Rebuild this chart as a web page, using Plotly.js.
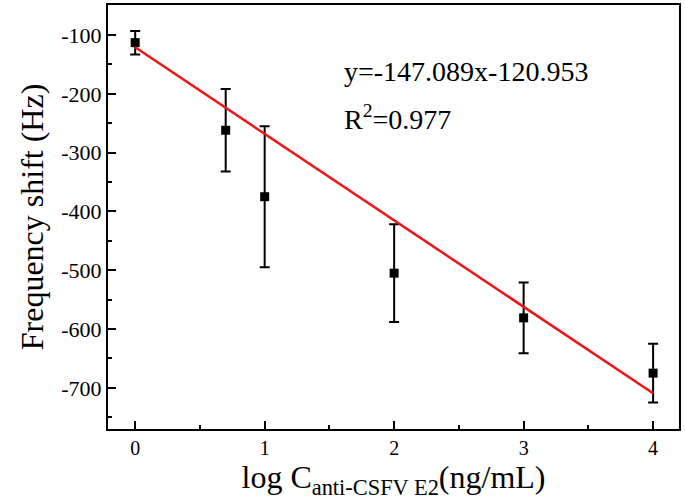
<!DOCTYPE html>
<html>
<head>
<meta charset="utf-8">
<script src="https://cdn.plot.ly/plotly-3.0.1.min.js"></script>
<style>
  html, body { margin: 0; padding: 0; background: #fff; }
  #chart { width: 685px; height: 502px; }
</style>
</head>
<body>
<div id="chart"></div>
<script>
// ─────────────────────────────
// DATOS
// ─────────────────────────────
const logConc = [0, 0.699, 1, 2, 3, 4];
const shift = [-113, -262, -375, -505, -581, -675];
const shiftErr = [20, 70, 120, 83, 60, 50];

// recta de ajuste y = -147.089x - 120.953 (extremos)
const fitX = [0, 4];
const fitY = [-120.953, -709.309];

const yTicks = [-700, -600, -500, -400, -300, -200, -100];
const xTicks = [0, 1, 2, 3, 4];

const serif = '"Liberation Serif", "Times New Roman", serif';

// ─────────────────────────────
// TRAZAS
// ─────────────────────────────
const puntos = {
  x: logConc,
  y: shift,
  type: 'scatter',
  mode: 'markers',
  marker: { symbol: 'square', size: 9, color: '#000' },
  error_y: {
    type: 'data',
    array: shiftErr,
    visible: true,
    color: '#000',
    thickness: 2,
    width: 5
  },
  showlegend: false
};

const ajuste = {
  x: fitX,
  y: fitY,
  type: 'scatter',
  mode: 'lines',
  line: { color: 'rgb(235,22,22)', width: 2.5 },
  showlegend: false
};

// ─────────────────────────────
// LAYOUT
// ─────────────────────────────
const ejeComun = {
  showline: true,
  mirror: true,
  linecolor: '#000',
  linewidth: 2,
  ticks: 'inside',
  ticklen: 8,
  tickwidth: 2,
  tickcolor: '#000',
  showgrid: false,
  zeroline: false
};

const layout = {
  width: 685,
  height: 502,
  margin: { l: 108, r: 6, t: 5, b: 73 },
  paper_bgcolor: '#fff',
  plot_bgcolor: '#fff',
  font: { family: serif, color: '#000' },
  xaxis: {
    ...ejeComun,
    range: [-0.21, 4.2],
    tickvals: xTicks,
    ticktext: xTicks.map(String),
    tickfont: { family: serif, size: 20 },
    minor: { ticks: 'inside', ticklen: 4, tickwidth: 2, tickcolor: '#000', dtick: 0.5 },
    title: {
      text: 'log C<sub>anti-CSFV E2</sub>(ng/mL)',
      font: { family: serif, size: 32 },
      standoff: 6
    }
  },
  yaxis: {
    ...ejeComun,
    range: [-770, -49],
    tickvals: yTicks,
    ticktext: yTicks.map(v => '-' + Math.abs(v)),
    tickfont: { family: serif, size: 22 },
    minor: { ticks: 'inside', ticklen: 4, tickwidth: 2, tickcolor: '#000', dtick: 50 },
    title: {
      text: 'Frequency shift (Hz)',
      font: { family: serif, size: 32 },
      standoff: 8
    }
  },
  annotations: [
    {
      xref: 'paper', yref: 'paper',
      x: 0.41, y: 0.842,
      xanchor: 'left', yanchor: 'middle',
      text: 'y=-147.089x-120.953',
      showarrow: false,
      font: { family: serif, size: 28 }
    },
    {
      xref: 'paper', yref: 'paper',
      x: 0.41, y: 0.735,
      xanchor: 'left', yanchor: 'middle',
      text: 'R<sup>2</sup>=0.977',
      showarrow: false,
      font: { family: serif, size: 28 }
    }
  ]
};

Plotly.newPlot('chart', [puntos, ajuste], layout, { staticPlot: true, displayModeBar: false });
</script>
</body>
</html>
